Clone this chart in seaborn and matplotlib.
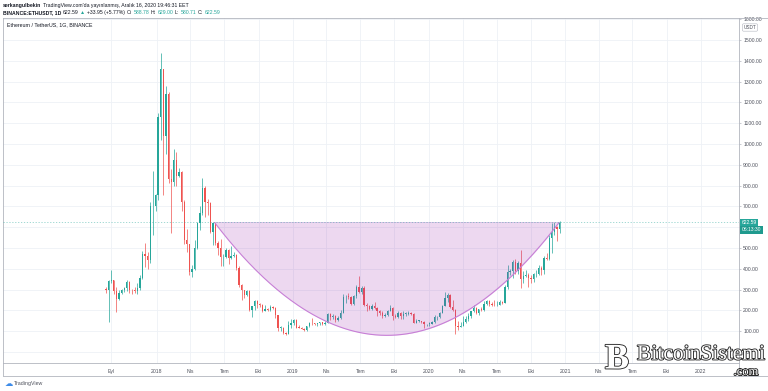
import matplotlib
matplotlib.use("Agg")
import numpy as np
import pandas as pd
import seaborn as sns
import matplotlib.pyplot as plt
import matplotlib.dates as mdates
import matplotlib.patheffects as pe
from matplotlib.lines import Line2D
from matplotlib.transforms import IdentityTransform

# ETH/USDT (Binance), grouped into weekly candles
week_start = "2017-08-14"
first_open = 301.0
closes = [
    300, 340, 346, 294, 253, 284, 298, 308, 336, 297, 296, 295, 307, 354, 471, 463, 441, 700, 700, 755,
    1130, 1360, 1040, 1240, 830, 815, 925, 845, 865, 720, 540, 520, 385, 400, 500, 620, 670, 790, 720, 715,
    575, 620, 525, 500, 455, 455, 490, 450, 460, 465, 405, 320, 298, 275, 295, 200, 220, 245, 232, 226,
    197, 205, 204, 218, 212, 177, 116, 117, 93, 86, 130, 140,
    155, 117, 116, 112, 107, 124, 141, 137, 133, 137, 143, 136, 141, 184, 167, 171, 155, 162, 188, 262,
    266, 265, 230, 268, 310, 290, 307, 227, 220, 207, 222, 213, 195, 186, 172, 180, 197, 212, 173, 170,
    188, 174, 183, 183, 188, 183, 141, 150, 150, 142, 133, 135,
    136, 145, 166, 167, 189, 223, 259, 274, 218, 200, 123, 122, 125, 143, 158, 172, 197, 210, 186, 207,
    202, 231, 244, 233, 228, 225, 228, 241, 236, 310, 385, 390, 433, 391, 428, 352, 365, 370, 355, 352,
    375, 377, 405, 395, 453, 447, 550, 575, 600, 590, 622.59,
]
highs = [
    312, 345, 394, 347, 310, 300, 305, 311, 345, 340, 305, 310, 330, 370, 485, 525, 480, 720, 870, 760,
    1150, 1436, 1360, 1280, 1250, 880, 975, 960, 885, 870, 730, 590, 520, 420, 540, 625, 700, 835, 800, 735,
    720, 625, 625, 535, 545, 470, 500, 495, 510, 480, 470, 415, 325, 300, 300, 300, 222, 250, 250, 235,
    232, 225, 210, 225, 223, 215, 178, 125, 118, 95, 150, 160,
    160, 160, 130, 122, 113, 125, 145, 162, 140, 140, 146, 145, 148, 186, 185, 182, 178, 175, 200, 280,
    272, 285, 270, 275, 320, 365, 315, 315, 235, 225, 230, 238, 215, 203, 195, 185, 200, 225, 215, 182,
    198, 190, 198, 192, 198, 190, 185, 158, 152, 151, 148, 136,
    146, 150, 178, 172, 190, 225, 288, 285, 277, 252, 205, 150, 145, 175, 175, 187, 199, 227, 216, 209,
    215, 245, 252, 250, 240, 249, 245, 250, 245, 320, 416, 400, 440, 445, 435, 490, 390, 395, 380, 370,
    380, 395, 420, 412, 460, 475, 560, 620, 625, 605, 629,
]
lows = [
    285, 146, 330, 280, 194, 250, 280, 286, 295, 285, 280, 285, 280, 300, 350, 410, 400, 430, 560, 680,
    730, 1020, 755, 950, 810, 570, 800, 800, 840, 680, 520, 480, 370, 360, 395, 495, 585, 660, 650, 660,
    570, 515, 515, 465, 415, 415, 450, 425, 445, 455, 395, 310, 250, 260, 270, 195, 167, 200, 210, 215,
    192, 195, 198, 195, 205, 165, 100, 102, 88, 82, 85, 115,
    130, 115, 114, 110, 100, 102, 118, 130, 130, 125, 130, 132, 130, 140, 155, 160, 145, 150, 160, 185,
    235, 255, 225, 226, 260, 285, 280, 222, 195, 200, 200, 205, 175, 180, 165, 170, 175, 195, 155, 165,
    165, 160, 159, 175, 180, 180, 138, 138, 145, 140, 117, 124,
    126, 135, 141, 155, 164, 185, 220, 240, 210, 195, 86, 108, 120, 125, 140, 150, 165, 193, 182, 178,
    197, 198, 226, 220, 220, 220, 222, 227, 231, 234, 305, 370, 355, 375, 375, 308, 330, 360, 310, 330,
    335, 360, 370, 370, 375, 440, 440, 475, 560, 535, 570,
]

tick_dates = ["2017-09-01", "2018-01-01", "2018-04-01", "2018-07-01", "2018-10-01",
              "2019-01-01", "2019-04-01", "2019-07-01", "2019-10-01",
              "2020-01-01", "2020-04-01", "2020-07-01", "2020-10-01",
              "2021-01-01", "2021-04-01", "2021-07-01", "2021-10-01", "2022-01-01"]
tick_labels = ["Eyl", "2018", "Nis", "Tem", "Eki", "2019", "Nis", "Tem", "Eki",
               "2020", "Nis", "Tem", "Eki", "2021", "Nis", "Tem", "Eki", "2022"]
price_ticks = list(range(0, 1700, 100))
hidden_price_labels = [600]  # covered by the last-price badges

# cup drawing
bowl_start, bowl_end = "2018-06-05", "2020-12-16"
bowl_top, bowl_bottom = 622.59, 80.0
last_price = 622.59

UP, DOWN = "#26a69a", "#ef5350"
GRID = "#eef1f6"
BORDER = "#b2b5be"
TXT = "#131722"

sns.set_theme(style="white")
plt.rcParams["font.family"] = ["Liberation Sans", "DejaVu Sans"]

W, H = 768, 391
fig = plt.figure(figsize=(W / 100, H / 100), dpi=100)
ax = fig.add_axes([3 / W, 1 - 363 / H, (739 - 3) / W, (363 - 17.5) / H])

df = pd.DataFrame({
    "date": pd.date_range(week_start, periods=len(closes), freq="7D"),
    "open": [first_open] + closes[:-1],
    "high": highs,
    "low": lows,
    "close": closes,
})
df["x"] = mdates.date2num(df["date"] + pd.Timedelta(days=3.5))
df["color"] = np.where(df["close"] >= df["open"], UP, DOWN)
body_lo = df[["open", "close"]].min(axis=1)
body_h = (df["close"] - df["open"]).abs().clip(lower=2)

ax.vlines(df["x"], df["low"], df["high"], colors=df["color"], lw=0.5, zorder=2)
ax.bar(df["x"], body_h, bottom=body_lo, width=3.5, color=df["color"], lw=0, zorder=2)

# cup: quadratic arc between the two rims
x0 = mdates.date2num(pd.Timestamp(bowl_start))
x2 = mdates.date2num(pd.Timestamp(bowl_end))
ctrl = 2 * bowl_bottom - bowl_top
t = np.linspace(0, 1, 200)
bx = x0 + (x2 - x0) * t
by = (1 - t) ** 2 * bowl_top + 2 * (1 - t) * t * ctrl + t ** 2 * bowl_top
ax.fill_between(bx, by, bowl_top, color="#9c27b0", alpha=0.18, lw=0, zorder=3)
ax.plot(bx, by, color="#c77fd6", lw=0.8, zorder=3)
ax.plot([x0, x2], [bowl_top, bowl_top], color="#ddb8e6", lw=0.6, zorder=3)

ax.axhline(last_price, color=UP, lw=0.6, ls=(0, (1.5, 2)), alpha=0.5, zorder=4)

ax.set_xlim(mdates.date2num(pd.Timestamp("2016-11-14")), mdates.date2num(pd.Timestamp("2022-04-13")))
ax.set_ylim(-53, 1608)
ax.set_xticks(mdates.date2num(pd.to_datetime(tick_dates)))
ax.set_xticklabels(tick_labels)
ax.set_yticks(price_ticks)
ax.set_yticklabels(["" if v in hidden_price_labels else f"{v:.2f}" for v in price_ticks])
ax.yaxis.tick_right()
ax.grid(True, color=GRID, lw=0.6, zorder=0)
ax.set_axisbelow(True)
ax.tick_params(axis="x", labelsize=3.7, colors=BORDER, labelcolor="#50535e", length=1.5, width=0.5, pad=2.5)
ax.tick_params(axis="y", labelsize=3.7, colors=BORDER, labelcolor="#50535e", length=1.5, width=0.5, pad=1.5)
for s in ax.spines.values():
    s.set_color(BORDER)
    s.set_linewidth(0.6)

# outer frame lines
fig.add_artist(Line2D([3 / W, 1], [1 - 376 / H] * 2, color=BORDER, lw=0.6))
fig.add_artist(Line2D([3 / W] * 2, [1 - 376 / H, 1 - 363 / H], color=BORDER, lw=0.6))
fig.add_artist(Line2D([739 / W, 1], [1 - 17.5 / H] * 2, color=BORDER, lw=0.6))
fig.add_artist(Line2D([739 / W] * 2, [1 - 376 / H, 1 - 363 / H], color=BORDER, lw=0.6))

ident = IdentityTransform()


def text_run(x, y, pieces, size=3.7):
    renderer = fig.canvas.get_renderer()
    for s, color, weight in pieces:
        t = fig.text(x, H - y, s, color=color, fontsize=size, fontweight=weight,
                     ha="left", va="center", transform=ident)
        x += t.get_window_extent(renderer).width + 1.6


text_run(3, 5, [("serkangulbekin", TXT, "bold"),
                ("TradingView.com'da yayınlanmış, Aralık 16, 2020 19:46:31 EET", TXT, "normal")])
text_run(3, 12.5, [("BINANCE:ETHUSDT, 1D", TXT, "bold"), ("622.59", TXT, "normal"),
                   ("▲", UP, "normal"), ("+33.95 (+5.77%)", TXT, "normal"),
                   ("O:", TXT, "normal"), ("588.78", UP, "normal"),
                   ("H:", TXT, "normal"), ("629.00", UP, "normal"),
                   ("L:", TXT, "normal"), ("580.71", UP, "normal"),
                   ("C:", TXT, "normal"), ("622.59", UP, "normal")])
fig.text(7, H - 25, "Ethereum / TetherUS, 1G, BINANCE", fontsize=3.8, color=TXT,
         ha="left", va="center", transform=ident)

# price axis badges
fig.text(750, H - 27.5, "USDT", fontsize=3.4, color="#50535e", ha="center", va="center", transform=ident,
         bbox=dict(boxstyle="round,pad=0.25", fc="white", ec=BORDER, lw=0.4))
fig.text(741.5, H - 222.5, "622.59", fontsize=3.6, color="white", ha="left", va="center", transform=ident,
         bbox=dict(boxstyle="square,pad=0.3", fc=UP, ec="none"))
fig.text(741.5, H - 229.5, "06:13:30", fontsize=3.6, color="white", ha="left", va="center", transform=ident,
         bbox=dict(boxstyle="square,pad=0.3", fc="#1f9a8e", ec="none"))

# footer logo
fig.text(5, H - 383, "☁", fontsize=6, color="#3d8be8", ha="left", va="center", transform=ident,
         family=["DejaVu Sans"])
fig.text(14, H - 383, "TradingView", fontsize=3.8, color="#50535e", ha="left", va="center", transform=ident)

# watermark
stroke = [pe.withStroke(linewidth=1.3, foreground="#2a2a2a")]
fig.text(617, H - 360, "B", fontsize=26, color="white", fontweight="bold", family=["Liberation Serif"],
         ha="center", va="center", transform=ident, path_effects=stroke)
fig.text(701, H - 355, "BitcoinSistemi", fontsize=15.5, color="white", family=["Liberation Serif"],
         ha="center", va="center", transform=ident, path_effects=stroke)
fig.text(746, H - 372, ".com", fontsize=9, color="white", family=["Liberation Serif"],
         ha="center", va="center", transform=ident, path_effects=stroke)

fig.savefig("out.png", dpi=100, facecolor="white")
